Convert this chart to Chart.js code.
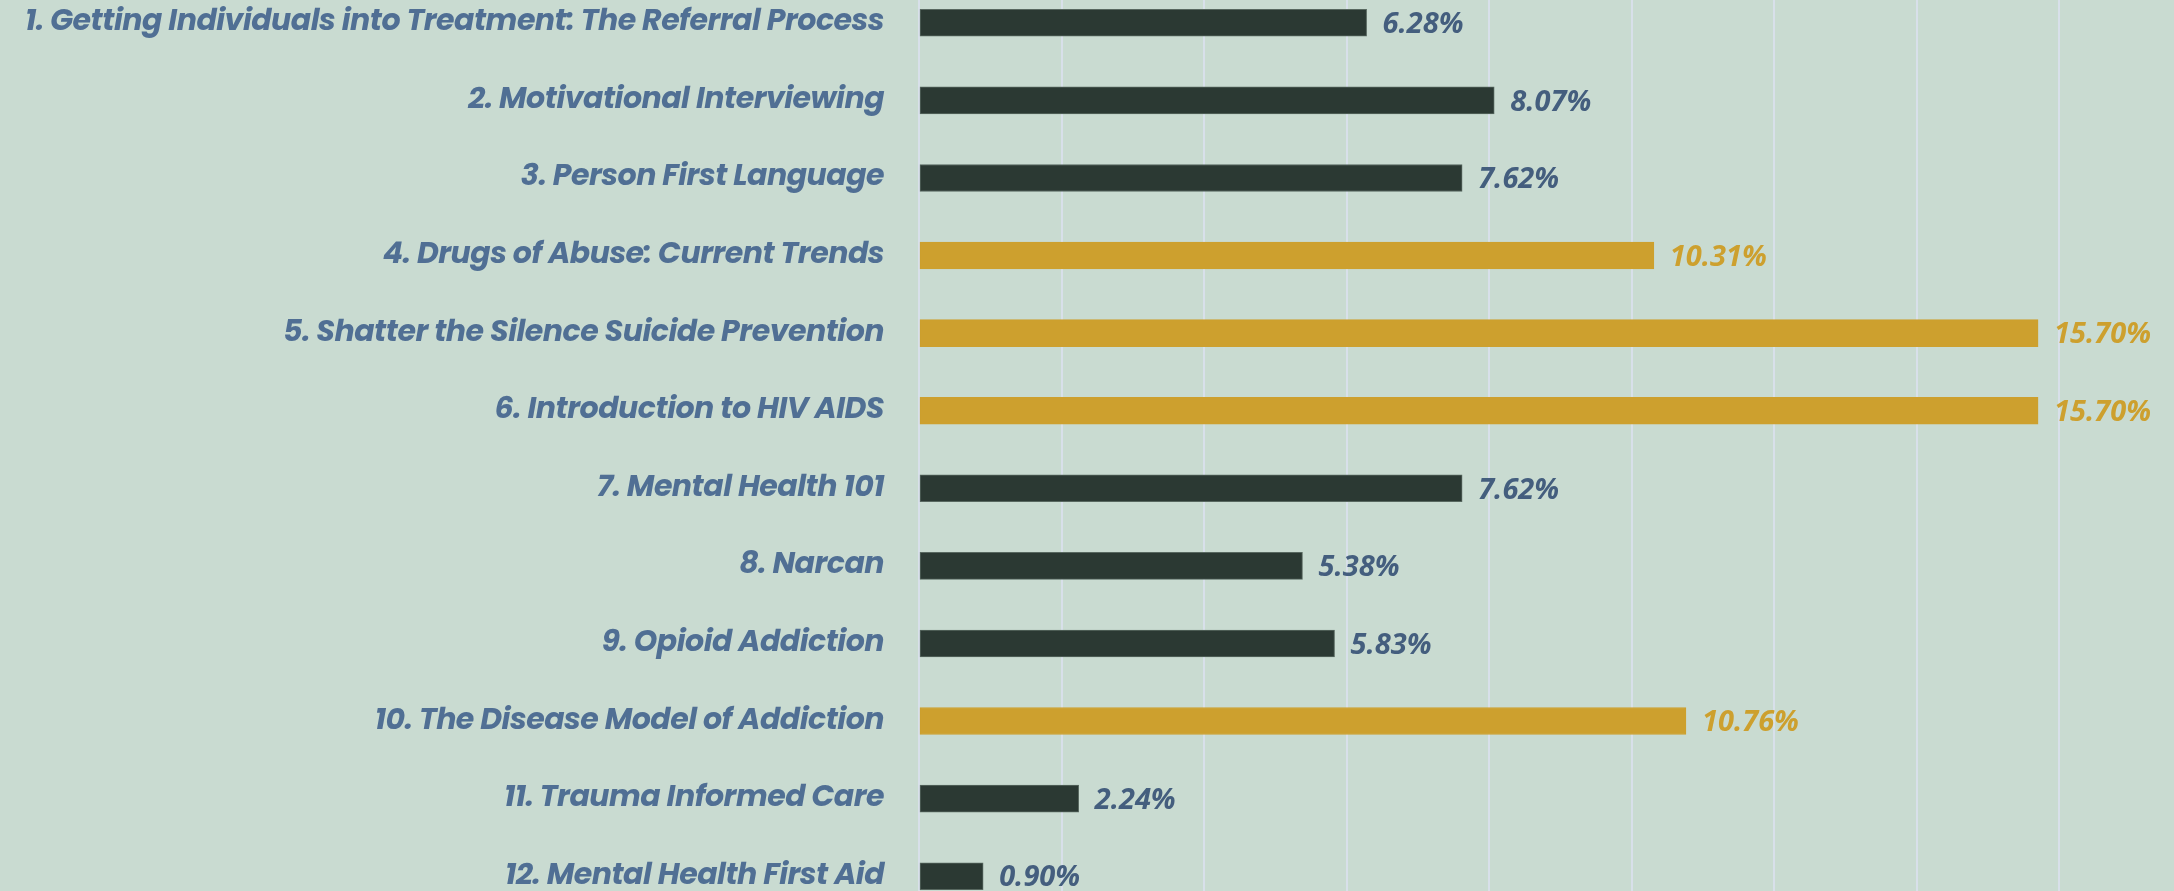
<!DOCTYPE html>
<html>
<head>
<meta charset="utf-8">
<script src="https://cdn.jsdelivr.net/npm/chart.js@4.4.1/dist/chart.umd.min.js"></script>
<style>
  html, body { margin: 0; padding: 0; background: #c9dbd1; overflow: hidden; width: 2174px; height: 891px; }
  #wrap { position: absolute; left: 0; top: -16px; width: 2202px; height: 931px; }
</style>
</head>
<body>
<div id="wrap"><canvas id="courses"></canvas></div>
<script>
const courses = [
  '1. Getting Individuals into Treatment: The Referral Process',
  '2. Motivational Interviewing',
  '3. Person First Language',
  '4. Drugs of Abuse: Current Trends',
  '5. Shatter the Silence Suicide Prevention',
  '6. Introduction to HIV AIDS',
  '7. Mental Health 101',
  '8. Narcan',
  '9. Opioid Addiction',
  '10. The Disease Model of Addiction',
  '11. Trauma Informed Care',
  '12. Mental Health First Aid'
];
const shares = [6.28, 8.07, 7.62, 10.31, 15.70, 15.70, 7.62, 5.38, 5.83, 10.76, 2.24, 0.90];

const dark = 'rgb(43, 57, 51)';
const gold = 'rgb(205, 160, 46)';
const labelBlue = 'rgb(80, 111, 148)';
const valueBlue = 'rgb(68, 94, 126)';

const barColor = ctx => ctx.raw > 10 ? gold : dark;

// tighter tracking for the category labels
const tracking = {
  id: 'tracking',
  beforeUpdate(chart) { chart.ctx.letterSpacing = '-0.5px'; },
  beforeDraw(chart) { chart.ctx.letterSpacing = '-0.5px'; }
};

const valueLabels = {
  id: 'valueLabels',
  afterDatasetsDraw(chart) {
    const c = chart.ctx;
    const meta = chart.getDatasetMeta(0);
    c.save();
    c.letterSpacing = '0px';
    c.font = 'italic bold 29px "Open Sans", sans-serif';
    c.textBaseline = 'middle';
    c.textAlign = 'left';
    meta.data.forEach((bar, i) => {
      const v = shares[i];
      c.fillStyle = v > 10 ? gold : valueBlue;
      c.fillText(v.toFixed(2) + '%', bar.x + 16, bar.y + 2);
    });
    c.restore();
  }
};

new Chart(document.getElementById('courses'), {
  type: 'bar',
  data: {
    labels: courses,
    datasets: [{
      data: shares,
      backgroundColor: barColor,
      borderColor: ctx => ctx.raw > 10 ? gold : 'rgb(88, 104, 96)',
      borderWidth: 1,
      borderSkipped: false,
      barThickness: 27
    }]
  },
  options: {
    indexAxis: 'y',
    responsive: true,
    maintainAspectRatio: false,
    animation: false,
    layout: { padding: 0 },
    plugins: {
      legend: { display: false },
      tooltip: { enabled: false }
    },
    scales: {
      x: {
        min: 0,
        max: 18,
        afterFit(scale) { scale.height = 0; scale.paddingLeft = 0; scale.paddingRight = 0; },
        ticks: { display: false, stepSize: 2 },
        grid: { color: 'rgb(216, 224, 234)', lineWidth: 2, drawTicks: false },
        border: { display: false }
      },
      y: {
        afterFit(scale) { scale.width = 919; scale.paddingTop = 0; scale.paddingBottom = 0; },
        ticks: {
          color: labelBlue,
          padding: 35,
          font: { family: 'Poppins, "Open Sans", sans-serif', size: 30, style: 'italic', weight: 'bold' }
        },
        grid: { display: false, drawTicks: false },
        border: { display: false }
      }
    }
  },
  plugins: [tracking, valueLabels]
});
</script>
</body>
</html>
